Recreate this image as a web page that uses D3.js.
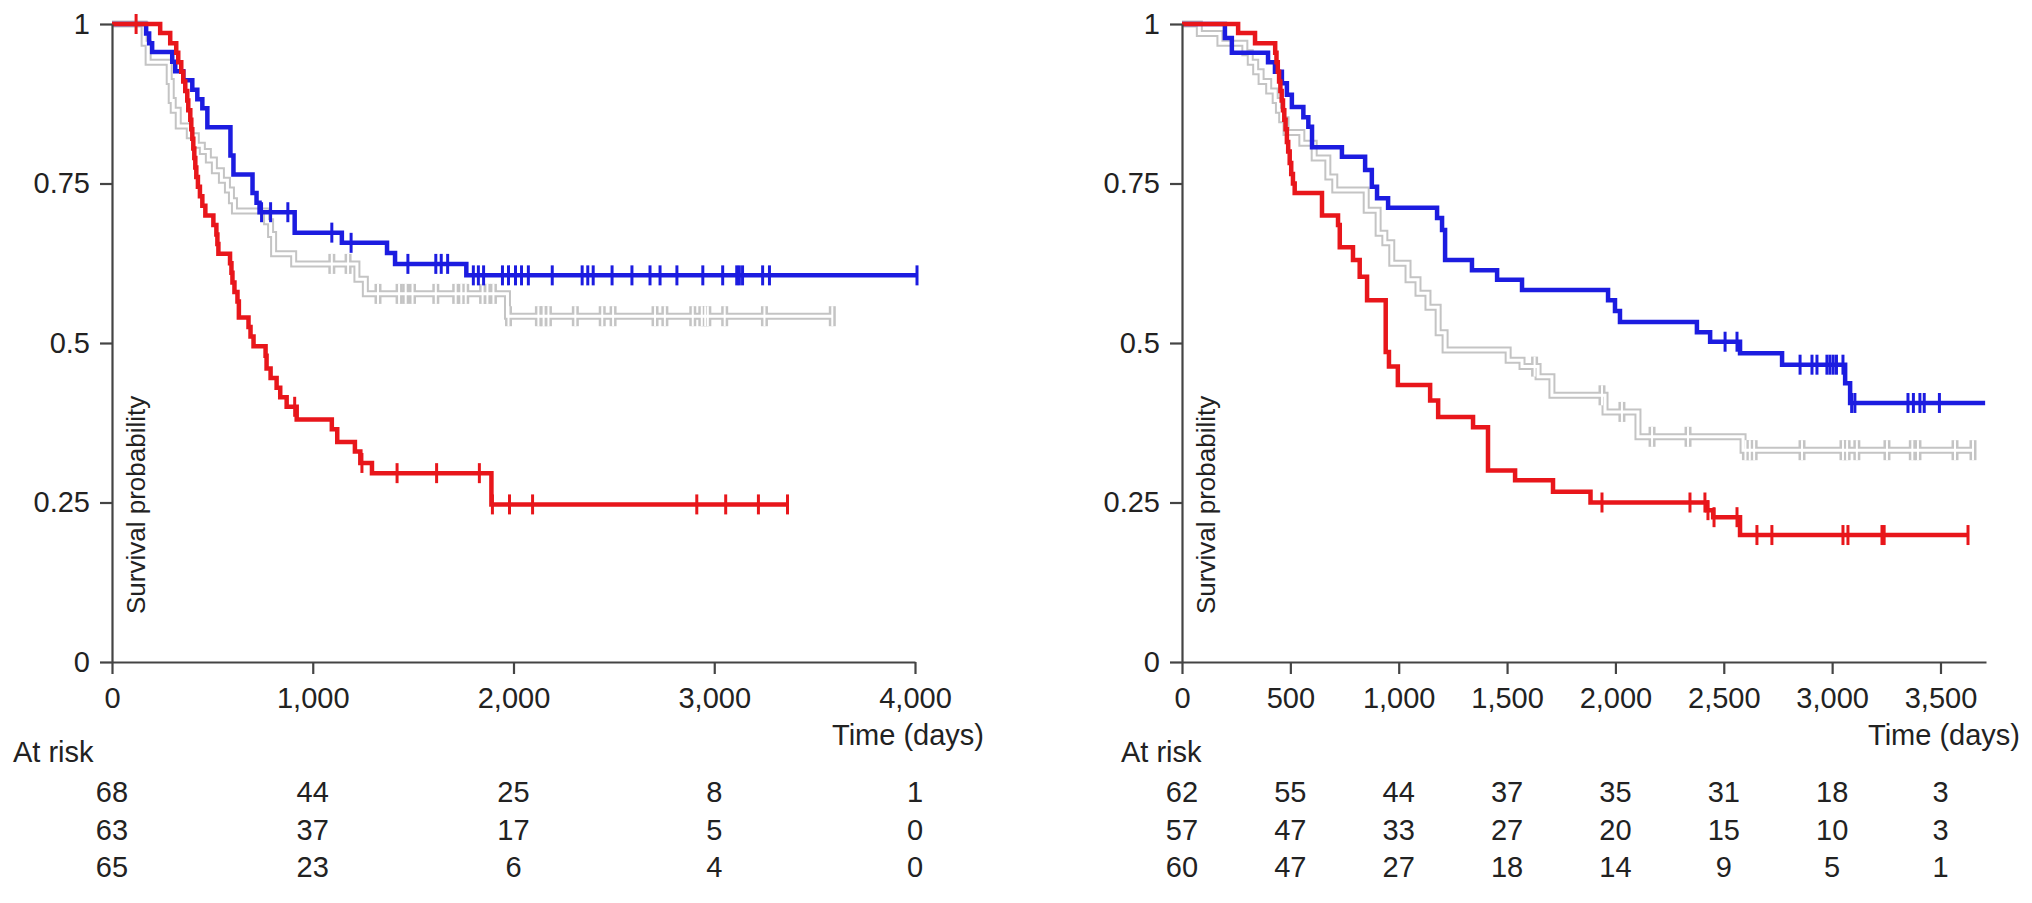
<!DOCTYPE html>
<html>
<head>
<meta charset="utf-8">
<script src="https://cdn.jsdelivr.net/npm/d3@7"></script>
<style>
  body { margin: 0; background: #fff; }
  text { font-family: "Liberation Sans", Arial, Helvetica, sans-serif; fill: #222; }
</style>
</head>
<body>
<svg id="chart" width="2032" height="903"></svg>
<script>
// ---- left panel data ----
var leftTicks = [0, 1000, 2000, 3000, 4000];
var leftBlue = [[0,1],[170,0.985],[185,0.970],[200,0.956],[300,0.941],[315,0.926],[355,0.912],[400,0.897],[425,0.882],[450,0.868],[475,0.838],[590,0.794],[605,0.764],[700,0.735],[720,0.720],[735,0.705],[910,0.673],[1145,0.657],[1370,0.641],[1410,0.624],[1765,0.606]];
var leftBlueEnd = 4010;
var leftBlueCens = [745,790,876,1095,1191,1474,1613,1640,1672,1800,1825,1851,1945,1975,2010,2040,2074,2193,2342,2370,2397,2491,2590,2680,2730,2814,2943,3042,3112,3125,3141,3241,3275,4010];
var leftGrey = [[0,1],[160,0.97],[180,0.94],[285,0.91],[295,0.88],[305,0.865],[330,0.84],[385,0.825],[420,0.81],[450,0.80],[480,0.787],[510,0.77],[545,0.755],[575,0.74],[595,0.723],[610,0.707],[770,0.69],[790,0.67],[805,0.64],[905,0.624],[1220,0.60],[1262,0.577],[1970,0.542]];
var leftGreyEnd = 3588;
var leftGreyCens = [1095,1176,1325,1430,1463,1497,1613,1712,1740,1762,1846,1870,1900,1975,2124,2150,2174,2308,2442,2496,2705,2754,2893,2938,2955,2968,3052,3250,3588];
var leftRed = [[0,1],[240,0.986],[290,0.97],[320,0.955],[330,0.94],[345,0.925],[355,0.91],[365,0.895],[375,0.88],[380,0.865],[390,0.85],[395,0.835],[400,0.82],[405,0.805],[410,0.79],[415,0.775],[420,0.76],[428,0.745],[438,0.73],[450,0.715],[465,0.70],[505,0.685],[520,0.67],[525,0.655],[530,0.64],[588,0.625],[595,0.61],[600,0.595],[610,0.58],[625,0.565],[632,0.54],[680,0.525],[690,0.51],[705,0.495],[765,0.48],[770,0.46],[790,0.445],[820,0.43],[838,0.415],[870,0.40],[920,0.38],[1095,0.365],[1122,0.345],[1210,0.33],[1237,0.312],[1295,0.296],[1890,0.247]];
var leftRedEnd = 3365;
var leftRedCens = [120,910,1245,1420,1617,1830,1895,1980,2095,2913,3057,3220,3365];
var leftRisk = [[68,44,25,8,1],[63,37,17,5,0],[65,23,6,4,0]];

// ---- right panel data ----
var rightTicks = [0, 500, 1000, 1500, 2000, 2500, 3000, 3500];
var rightBlue = [[0,1],[198,0.978],[230,0.955],[397,0.94],[429,0.925],[461,0.907],[484,0.889],[507,0.87],[560,0.854],[583,0.839],[600,0.807],[738,0.792],[845,0.771],[876,0.745],[900,0.727],[951,0.712],[1177,0.696],[1200,0.677],[1214,0.63],[1338,0.614],[1454,0.599],[1569,0.583],[1966,0.567],[1998,0.55],[2021,0.533],[2376,0.517],[2437,0.502],[2575,0.484],[2769,0.466],[3060,0.437],[3083,0.406]];
var rightBlueEnd = 3706;
var rightBlueCens = [2506,2561,2852,2907,2930,2976,2990,3005,3020,3050,3090,3105,3350,3375,3405,3425,3495];
var rightGrey = [[0,1],[80,0.985],[175,0.97],[290,0.955],[315,0.94],[340,0.925],[365,0.91],[400,0.895],[430,0.88],[445,0.865],[460,0.85],[480,0.83],[553,0.813],[610,0.79],[673,0.76],[705,0.74],[850,0.708],[905,0.672],[936,0.657],[968,0.625],[1043,0.599],[1089,0.578],[1135,0.556],[1182,0.516],[1214,0.489],[1505,0.473],[1569,0.463],[1643,0.447],[1707,0.418],[1952,0.392],[2104,0.353],[2589,0.332]];
var rightGreyEnd = 3650;
var rightGreyCens = [1627,1938,2030,2169,2335,2600,2620,2640,2861,3050,3069,3114,3253,3370,3396,3567,3650];
var rightRed = [[0,1],[259,0.986],[337,0.97],[430,0.955],[436,0.94],[442,0.925],[448,0.91],[454,0.895],[460,0.88],[466,0.865],[472,0.85],[478,0.835],[484,0.815],[490,0.8],[497,0.782],[504,0.765],[512,0.75],[520,0.735],[646,0.70],[720,0.685],[728,0.65],[789,0.63],[820,0.604],[854,0.567],[940,0.486],[955,0.463],[996,0.434],[1145,0.41],[1182,0.384],[1343,0.368],[1412,0.30],[1537,0.285],[1712,0.267],[1885,0.25],[2423,0.238],[2451,0.227],[2575,0.199]];
var rightRedEnd = 3627;
var rightRedCens = [1938,2344,2413,2427,2455,2561,2653,2722,3050,3073,3230,3240,3627];
var rightRisk = [[62,55,44,37,35,31,18,3],[57,47,33,27,20,15,10,3],[60,47,27,18,14,9,5,1]];

var yTicks = [0, 0.25, 0.5, 0.75, 1];

var svg = d3.select('#chart');
var y = d3.scaleLinear().domain([0, 1]).range([662, 24]);
var font = 29;

function survAt(steps, t) {
  var i = d3.bisector(function(d) { return d[0]; }).right(steps, t) - 1;
  return steps[Math.max(i, 0)][1];
}

function drawPanel(o) {
  var x = d3.scaleLinear().domain([0, o.max]).range([o.x0, o.x1]);
  var g = svg.append('g');

  var line = d3.line()
    .x(function(d) { return x(d[0]); })
    .y(function(d) { return y(d[1]); })
    .curve(d3.curveStepAfter);

  function pts(steps, end) {
    return steps.concat([[end, steps[steps.length - 1][1]]]);
  }

  function ticksOf(steps, cens, color, width, parent) {
    parent.selectAll(null)
      .data(cens)
      .enter().append('line')
      .attr('x1', function(d) { return x(d); })
      .attr('x2', function(d) { return x(d); })
      .attr('y1', function(d) { return y(survAt(steps, d)) - 10; })
      .attr('y2', function(d) { return y(survAt(steps, d)) + 10; })
      .attr('stroke', color)
      .attr('stroke-width', width);
  }

  // grey group drawn as a hollow line
  var gg = g.append('g');
  gg.append('path').datum(pts(o.grey, o.greyEnd)).attr('d', line)
    .attr('fill', 'none').attr('stroke', '#c4c4c4').attr('stroke-width', 7);
  ticksOf(o.grey, o.greyCens, '#c4c4c4', 7, gg);
  gg.append('path').datum(pts(o.grey, o.greyEnd)).attr('d', line)
    .attr('fill', 'none').attr('stroke', '#fff').attr('stroke-width', 3);
  ticksOf(o.grey, o.greyCens, '#fff', 2, gg);

  // blue and red
  [[o.blue, o.blueEnd, o.blueCens, '#1c1ce0'], [o.red, o.redEnd, o.redCens, '#e8161b']].forEach(function(s) {
    g.append('path').datum(pts(s[0], s[1])).attr('d', line)
      .attr('fill', 'none').attr('stroke', s[3]).attr('stroke-width', 4.5);
    ticksOf(s[0], s[2], s[3], 3, g);
  });

  // axes
  var xAxis = d3.axisBottom(x).tickValues(o.ticks).tickFormat(d3.format(','))
    .tickSize(12).tickSizeOuter(0).tickPadding(13);
  var yAxis = d3.axisLeft(y).tickValues(yTicks)
    .tickFormat(function(d) { return d === 0 ? '0' : d === 1 ? '1' : String(d); })
    .tickSize(12).tickSizeOuter(0).tickPadding(10);

  var ax = g.append('g').attr('transform', 'translate(0,662)').call(xAxis);
  var ay = g.append('g').attr('transform', 'translate(' + o.x0 + ',0)').call(yAxis);
  [ax, ay].forEach(function(a) {
    a.attr('font-size', font).attr('font-family', null);
    a.select('.domain').attr('stroke', '#444').attr('stroke-width', 2.2);
    a.selectAll('.tick line').attr('stroke', '#444').attr('stroke-width', 2.2);
    a.selectAll('.tick text').attr('fill', '#222');
  });

  g.append('text')
    .attr('x', o.timeX).attr('y', 745)
    .attr('text-anchor', 'end').style('font-size', font + 'px')
    .text('Time (days)');

  g.append('text')
    .attr('transform', 'translate(' + (o.x0 + 33) + ',614) rotate(-90)')
    .style('font-size', '26px')
    .text('Survival probability');

  g.append('text')
    .attr('x', o.riskX).attr('y', 762)
    .style('font-size', font + 'px')
    .text('At risk');

  var rowY = [802, 840, 877];
  o.risk.forEach(function(row, r) {
    g.selectAll(null).data(row).enter().append('text')
      .attr('x', function(d, i) { return x(o.ticks[i]); })
      .attr('y', rowY[r])
      .attr('text-anchor', 'middle')
      .style('font-size', font + 'px')
      .text(function(d) { return d; });
  });
}

drawPanel({
  x0: 112, x1: 915, max: 4000, ticks: leftTicks, riskX: 13, timeX: 984,
  blue: leftBlue, blueEnd: leftBlueEnd, blueCens: leftBlueCens,
  grey: leftGrey, greyEnd: leftGreyEnd, greyCens: leftGreyCens,
  red: leftRed, redEnd: leftRedEnd, redCens: leftRedCens,
  risk: leftRisk
});

drawPanel({
  x0: 1182, x1: 1986, max: 3710, ticks: rightTicks, riskX: 1121, timeX: 2020,
  blue: rightBlue, blueEnd: rightBlueEnd, blueCens: rightBlueCens,
  grey: rightGrey, greyEnd: rightGreyEnd, greyCens: rightGreyCens,
  red: rightRed, redEnd: rightRedEnd, redCens: rightRedCens,
  risk: rightRisk
});
</script>
</body>
</html>
